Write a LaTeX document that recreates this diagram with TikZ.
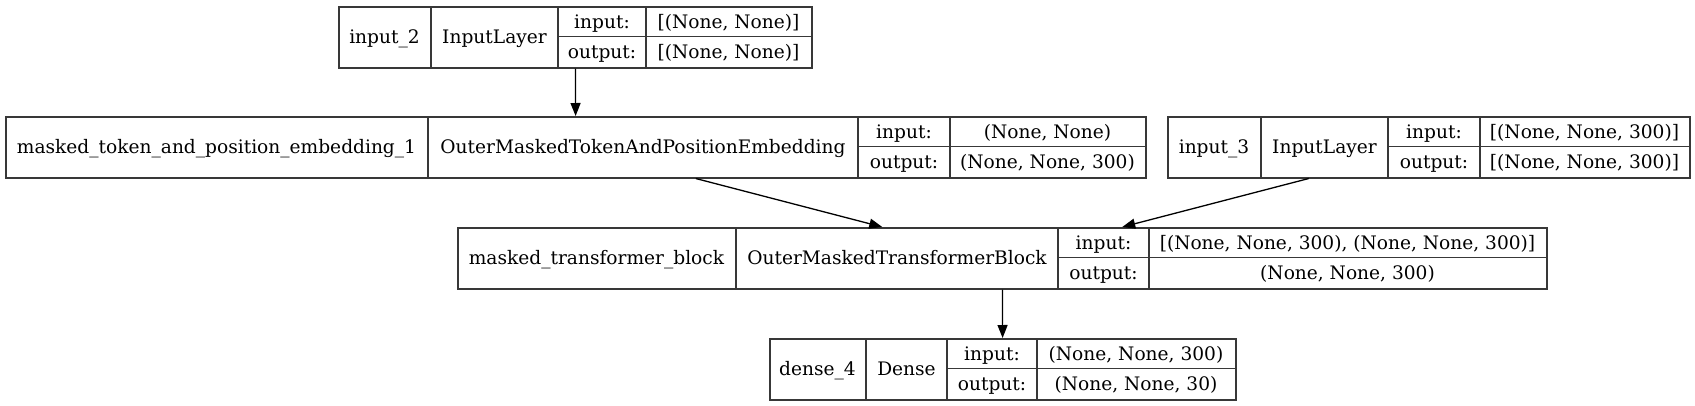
\documentclass[tikz,border=0pt]{standalone}
\usepackage{fontspec}
\setmainfont{DejaVu Serif}
\usetikzlibrary{arrows.meta}
\tikzset{
  box/.style={draw=black!78, line width=1.5pt, inner sep=0pt, anchor=north west, minimum height=61pt},
  div/.style={draw=black!78, line width=1.5pt},
  lbl/.style={inner sep=0pt, anchor=base, font=\fontsize{18.6}{22}\selectfont},
  edge/.style={draw=black, line width=1.3pt, -{Triangle[length=13pt,width=10pt]}},
}
% #1 name, #2..#6 x positions, #7 top y, #8 layer name, #9 layer type; \inv, \outv port texts
\newcommand{\kerasrec}[9]{%
  \node[box, minimum width={(#6-#2)*1pt}] (#1) at (#2,-#7) {};
  \draw[div] (#3,-#7) -- ++(0,-61) (#4,-#7) -- ++(0,-61) (#5,-#7) -- ++(0,-61)
             (#4,-#7-30.5) -- (#6,-#7-30.5);
  \node[lbl] (#1-n) at ({(#2+#3)/2},{-#7-37.5}) {#8};
  \node[lbl] (#1-t) at ({(#3+#4)/2},{-#7-37.5}) {#9};
  \node[lbl] (#1-il) at ({(#4+#5)/2},{-#7-22}) {input:};
  \node[lbl] (#1-ol) at ({(#4+#5)/2},{-#7-52.5}) {output:};
  \node[lbl] (#1-iv) at ({(#5+#6)/2},{-#7-22}) {\inv};
  \node[lbl] (#1-ov) at ({(#5+#6)/2},{-#7-52.5}) {\outv};
}
\begin{document}
\begin{tikzpicture}[x=1pt,y=1pt]
\useasboundingbox (0,0) rectangle (1695,-405);
\def\inv{[(None, None)]}\def\outv{[(None, None)]}
\kerasrec{A}{338}{431}{558}{646}{811}{6}{input\_2}{InputLayer}
\def\inv{(None, None)}\def\outv{(None, None, 300)}
\kerasrec{B}{5}{428}{858}{950}{1145}{116}{masked\_token\_and\_position\_embedding\_1}{OuterMaskedTokenAndPositionEmbedding}
\def\inv{[(None, None, 300)]}\def\outv{[(None, None, 300)]}
\kerasrec{C}{1167}{1261}{1388}{1480}{1689}{116}{input\_3}{InputLayer}
\def\inv{[(None, None, 300), (None, None, 300)]}\def\outv{(None, None, 300)}
\kerasrec{D}{457}{736}{1058}{1149}{1546}{227}{masked\_transformer\_block}{OuterMaskedTransformerBlock}
\def\inv{(None, None, 300)}\def\outv{(None, None, 30)}
\kerasrec{E}{769}{866}{947}{1037}{1235}{338}{dense\_4}{Dense}
\draw[edge] (A) -- (B);
\draw[edge] (B) -- (D);
\draw[edge] (C) -- (D);
\draw[edge] (D) -- (E);
\end{tikzpicture}
\end{document}
